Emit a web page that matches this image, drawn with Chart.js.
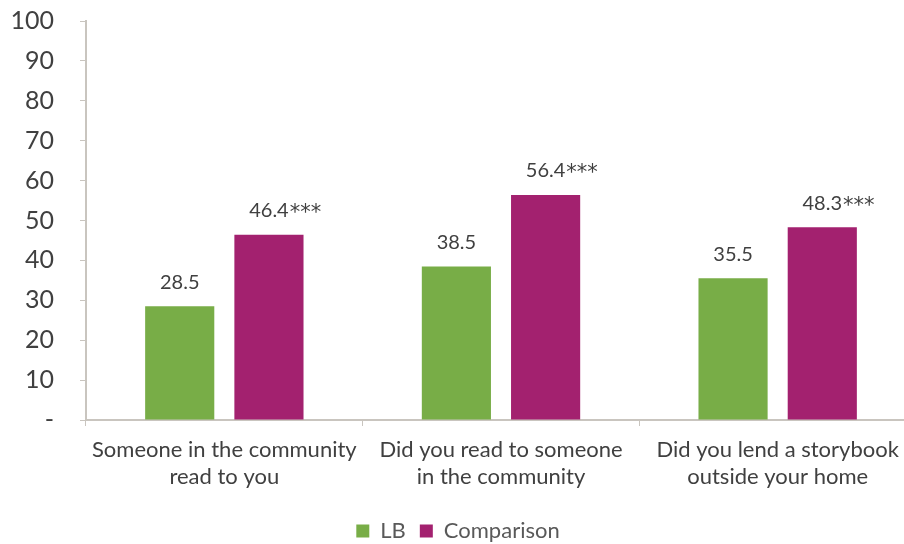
<!DOCTYPE html>
<html>
<head>
<meta charset="utf-8">
<script src="https://cdn.jsdelivr.net/npm/chart.js@4/dist/chart.umd.min.js"></script>
<style>
  html, body { margin: 0; padding: 0; background: #fff; overflow: hidden; }
  /* y tick padding also pads the top of the plot, so pull the canvas up */
  #wrap { width: 916px; height: 573px; margin-top: -20px; }
</style>
</head>
<body>
<div id="wrap"><canvas id="c"></canvas></div>
<script>
// survey items and percentages per group
var categories = [
  ["Someone in the community", "read to you"],
  ["Did you read to someone", "in the community"],
  ["Did you lend a storybook", "outside your home"]
];
var lbValues = [28.5, 38.5, 35.5];
var comparisonValues = [46.4, 56.4, 48.3];
var comparisonStars = ["***", "***", "***"];
var yTicks = [0, 10, 20, 30, 40, 50, 60, 70, 80, 90, 100];

var textColor = "#404040";
var axisColor = "#c9c5bf";
var fontFamily = "Lato, 'Open Sans', sans-serif";

// value labels above bars, significance stars appended after the number
var valueLabels = {
  id: "valueLabels",
  afterDatasetsDraw: function(chart) {
    var ctx = chart.ctx;
    ctx.save();
    chart.data.datasets.forEach(function(ds, di) {
      var meta = chart.getDatasetMeta(di);
      meta.data.forEach(function(bar, i) {
        var txt = ds.data[i].toFixed(1);
        var y = bar.y - 24;
        ctx.font = "20px " + fontFamily;
        ctx.fillStyle = textColor;
        ctx.textAlign = "center";
        ctx.textBaseline = "middle";
        ctx.fillText(txt, bar.x, y);
        if (ds.stars && ds.stars[i]) {
          var w = ctx.measureText(txt).width;
          ctx.font = "21px 'DejaVu Sans', sans-serif";
          ctx.textAlign = "left";
          ctx.fillText(ds.stars[i], bar.x + w / 2 + 1, y + 3);
        }
      });
    });
    ctx.restore();
  }
};

new Chart(document.getElementById("c"), {
  type: "bar",
  data: {
    labels: categories,
    datasets: [
      { label: "LB", data: lbValues, backgroundColor: "#78ad47" },
      { label: "Comparison", data: comparisonValues, stars: comparisonStars, backgroundColor: "#a3216f" }
    ]
  },
  options: {
    responsive: true,
    maintainAspectRatio: false,
    animation: false,
    datasets: { bar: { categoryPercentage: 0.645, barPercentage: 0.775 } },
    layout: { padding: { top: 0, right: 0, bottom: 1, left: 0 } },
    plugins: {
      legend: {
        position: "bottom",
        labels: {
          color: "#595959",
          font: { family: fontFamily, size: 22 },
          boxWidth: 13, boxHeight: 13, padding: 14
        }
      },
      tooltip: { enabled: false }
    },
    scales: {
      x: {
        grid: { drawOnChartArea: false, color: axisColor, tickLength: 6, offset: true },
        border: { color: axisColor, width: 2 },
        ticks: { color: textColor, font: { family: fontFamily, size: 22, lineHeight: 1.25 }, padding: 10 },
        afterFit: function(scale) { scale.height = 86; }
      },
      y: {
        min: 0, max: 100,
        afterBuildTicks: function(scale) {
          scale.ticks = yTicks.map(function(v) { return { value: v }; });
        },
        afterFit: function(scale) { scale.width = 86; },
        grid: { drawOnChartArea: false, color: axisColor, tickLength: 6 },
        border: { color: axisColor, width: 2 },
        ticks: {
          color: textColor, font: { family: fontFamily, size: 25 }, padding: 26,
          callback: function(v) { return v === 0 ? "-" : v; }
        }
      }
    }
  },
  plugins: [valueLabels]
});
</script>
</body>
</html>
